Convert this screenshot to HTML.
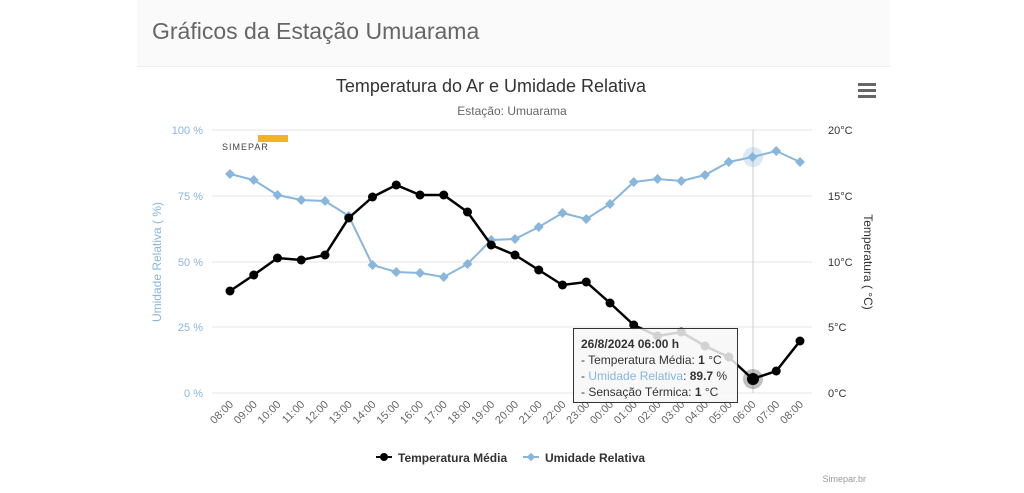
<!DOCTYPE html>
<html><head><meta charset="utf-8"><style>
body{margin:0;width:1024px;height:493px;background:#fff;font-family:"Liberation Sans",sans-serif;overflow:hidden;position:relative}
#hdr{position:absolute;left:137px;top:0;width:753px;height:66px;background:#fafafa;border-bottom:1px solid #eee}
#hdr span{position:absolute;left:15px;top:18px;font-size:23px;color:#666}
</style></head><body>
<div id="hdr"><span>Gráficos da Estação Umuarama</span></div>
<svg id="c" width="1024" height="493" style="position:absolute;left:0;top:0" xmlns="http://www.w3.org/2000/svg"></svg>
<script>
var B='#88b6dc';
var s='';
s+='<text x="491" y="92" text-anchor="middle" font-size="18" fill="#333">Temperatura do Ar e Umidade Relativa</text>';
s+='<text x="512" y="115" text-anchor="middle" font-size="12" fill="#666">Estação: Umuarama</text>';
s+='<rect x="858" y="83" width="18" height="3" fill="#666"/><rect x="858" y="89" width="18" height="3" fill="#666"/><rect x="858" y="95" width="18" height="3" fill="#666"/>';
var gy=[393,327,262,196,130],pl=['0 %','25 %','50 %','75 %','100 %'],tl=['0°C','5°C','10°C','15°C','20°C'];
for(var i=0;i<5;i++){s+='<line x1="212" x2="812" y1="'+gy[i]+'" y2="'+gy[i]+'" stroke="#e6e6e6"/>';
s+='<text x="203" y="'+(gy[i]+4)+'" text-anchor="end" font-size="11" fill="'+B+'">'+pl[i]+'</text>';
s+='<text x="828" y="'+(gy[i]+4)+'" font-size="11" fill="#333">'+tl[i]+'</text>';}
s+='<text transform="translate(161,262) rotate(-90)" text-anchor="middle" font-size="12" fill="'+B+'">Umidade Relativa ( %)</text>';
s+='<text transform="translate(864,262) rotate(90)" text-anchor="middle" font-size="12" fill="#333">Temperatura ( °C)</text>';
s+='<text x="222" y="150" font-size="9" fill="#444" letter-spacing="1">SIMEPAR</text><rect x="258" y="135" width="30" height="7" fill="#f0b323"/>';
s+='<line x1="753" x2="753" y1="130" y2="393" stroke="#ccc"/>';
var X=function(i){return 230+i*23.75};
var hrs=['08','09','10','11','12','13','14','15','16','17','18','19','20','21','22','23','00','01','02','03','04','05','06','07','08'];
for(var i=0;i<25;i++){s+='<text transform="translate('+(X(i)+4)+',405) rotate(-45)" text-anchor="end" font-size="11" fill="#666">'+hrs[i]+':00</text>';}
var H=[174,180,195,200,201,216,265,272,273,277,264,240,239,227,213,219,204,182,179,181,175,162,157,151,162];
var T=[291,275,258,260,255,218,197,185,195,195,212,245,255,270,285,282,303,325,336,332,346,357,379,371,341];
function pts(a){return a.map(function(y,i){return X(i)+','+y}).join(' ')}
s+='<polyline points="'+pts(H)+'" fill="none" stroke="'+B+'" stroke-width="2"/>';
H.forEach(function(y,i){s+='<rect x="'+(X(i)-3.5)+'" y="'+(y-3.5)+'" width="7" height="7" fill="'+B+'" transform="rotate(45 '+X(i)+' '+y+')"/>'});
s+='<circle cx="753" cy="157" r="10" fill="'+B+'" opacity="0.3"/>';
s+='<polyline points="'+pts(T)+'" fill="none" stroke="#000" stroke-width="2.5"/>';
T.forEach(function(y,i){s+='<circle cx="'+X(i)+'" cy="'+y+'" r="4.5" fill="#000"/>'});
s+='<circle cx="753" cy="379" r="10" fill="#000" opacity="0.25"/><circle cx="753" cy="379" r="6" fill="#000"/>';
s+='<rect x="573.5" y="328.5" width="164" height="74" fill="#f7f7f7" fill-opacity="0.85" stroke="#333"/>';
s+='<text x="581" y="348" font-size="12" font-weight="bold" fill="#333">26/8/2024 06:00 h</text>';
s+='<text x="581" y="364" font-size="12" fill="#333">- Temperatura Média: <tspan font-weight="bold">1</tspan> °C</text>';
s+='<text x="581" y="380" font-size="12" fill="#333">- <tspan fill="'+B+'">Umidade Relativa</tspan>: <tspan font-weight="bold">89.7</tspan> %</text>';
s+='<text x="581" y="396" font-size="12" fill="#333">- Sensação Térmica: <tspan font-weight="bold">1</tspan> °C</text>';
s+='<line x1="376" x2="392" y1="457" y2="457" stroke="#000" stroke-width="2"/><circle cx="384" cy="457" r="4" fill="#000"/>';
s+='<text x="398" y="462" font-size="12" font-weight="bold" fill="#333">Temperatura Média</text>';
s+='<line x1="523" x2="539" y1="457" y2="457" stroke="'+B+'" stroke-width="2"/><rect x="528" y="454" width="6" height="6" fill="'+B+'" transform="rotate(45 531 457)"/>';
s+='<text x="545" y="462" font-size="12" font-weight="bold" fill="#333">Umidade Relativa</text>';
s+='<text x="866" y="482" text-anchor="end" font-size="9" fill="#999">Simepar.br</text>';
document.getElementById('c').innerHTML=s;
</script>
</body></html>
